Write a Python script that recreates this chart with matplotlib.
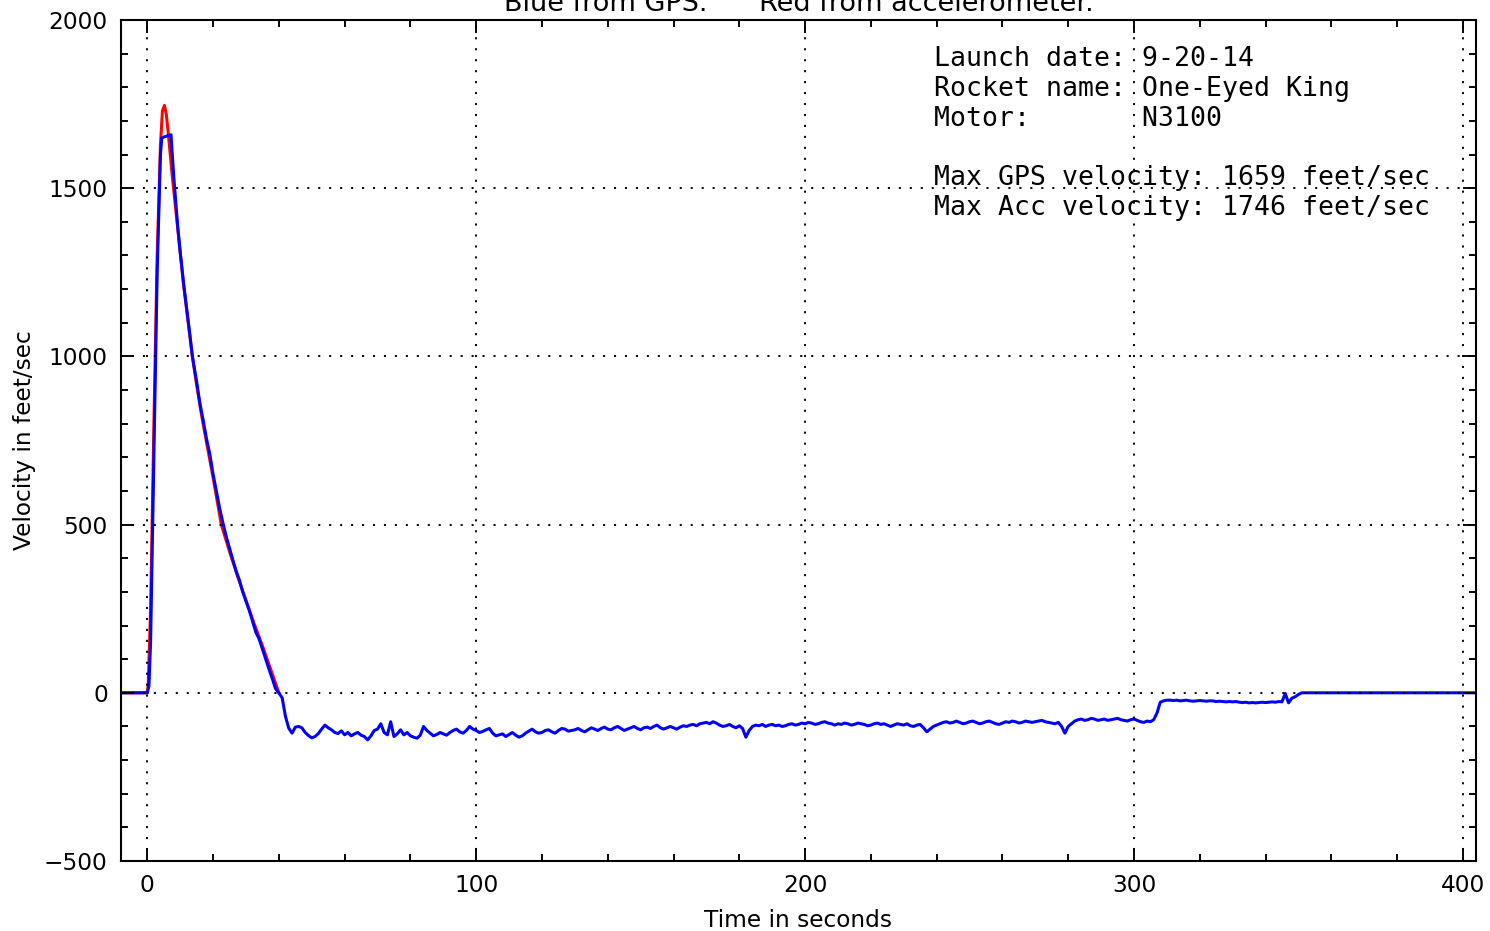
import numpy as np
import matplotlib
matplotlib.use("Agg")
import matplotlib.pyplot as plt
from matplotlib.ticker import MultipleLocator

# ---------------- data ----------------
# Accelerometer velocity (red)
acc_t = [-8, 0, 0.3, 1, 2, 3, 4, 4.6, 5.2, 5.8, 6.5, 7.5, 8.5, 9.3, 11, 12.5,
         13.7, 15, 16.5, 18, 20, 22.5, 25, 27.5, 30, 32.5, 35, 37.5, 40]
acc_v = [0, 0, 30, 250, 800, 1300, 1630, 1730, 1746, 1718, 1650, 1545, 1450,
         1376, 1215, 1095, 1000, 915, 825, 745, 640, 500, 420, 345, 275, 205,
         140, 70, 0]

# GPS velocity (blue), launch and coast
gps_t_boost = [-8, 0, 0.5, 1, 1.5, 2, 3, 4, 4.4, 7.2, 8, 9.3, 10, 11, 12, 13,
               13.7, 15, 16, 17, 18, 19, 20, 21, 22, 23, 24, 25, 26, 27, 28,
               29, 30, 31, 32, 33, 34, 35, 36, 37, 38, 39]
gps_v_boost = [0, 0, 20, 150, 420, 700, 1250, 1600, 1650, 1659, 1540, 1380,
               1310, 1220, 1140, 1060, 1000, 925, 860, 810, 755, 710, 650, 600,
               548, 505, 465, 430, 395, 362, 335, 300, 272, 245, 212, 180, 160,
               130, 100, 70, 42, 12]

# GPS velocity (blue), descent, one reading per second from t = 40 s
gps_v_descent = [
    0, -15, -70, -105, -120, -102, -100, -104, -118, -127,
    -134, -130, -121, -108, -96, -104, -110, -118, -121, -113,
    -125, -118, -128, -122, -118, -126, -130, -140, -128, -112,
    -108, -92, -118, -125, -86, -130, -122, -110, -125, -118,
    -128, -132, -135, -126, -100, -112, -120, -128, -124, -118,
    -122, -126, -118, -112, -108, -116, -120, -112, -100, -108,
    -112, -118, -115, -110, -106, -120, -128, -125, -122, -130,
    -124, -118, -126, -132, -128, -120, -114, -108, -116, -120,
    -118, -112, -110, -116, -120, -112, -106, -108, -114, -112,
    -110, -106, -112, -116, -110, -104, -108, -112, -106, -102,
    -108, -110, -104, -100, -106, -112, -108, -104, -100, -106,
    -110, -104, -102, -106, -100, -96, -104, -108, -104, -100,
    -104, -108, -102, -98, -100, -96, -94, -98, -92, -90,
    -88, -92, -86, -90, -96, -100, -98, -94, -100, -104,
    -98, -106, -132, -112, -100, -96, -98, -94, -100, -96,
    -94, -98, -96, -100, -98, -94, -92, -96, -94, -90,
    -92, -88, -90, -94, -92, -88, -86, -90, -92, -96,
    -92, -94, -90, -92, -96, -94, -90, -92, -94, -98,
    -96, -92, -90, -94, -92, -96, -100, -96, -92, -94,
    -96, -92, -98, -100, -96, -94, -104, -116, -108, -100,
    -96, -92, -88, -86, -90, -88, -84, -88, -92, -90,
    -86, -84, -88, -92, -90, -86, -84, -88, -92, -94,
    -90, -86, -88, -84, -86, -90, -88, -84, -86, -88,
    -86, -84, -82, -86, -88, -90, -92, -88, -100, -120,
    -100, -92, -84, -80, -78, -82, -80, -76, -78, -82,
    -80, -78, -82, -80, -78, -76, -80, -82, -84, -80,
    -78, -82, -86, -88, -84, -86, -80, -60, -28, -24,
    -22, -22, -23, -22, -24, -23, -22, -24, -25, -24,
    -23, -24, -25, -24, -24, -26, -25, -26, -27, -26,
    -27, -26, -28, -29, -28, -30, -29, -30, -29, -28,
    -29, -28, -27, -28, -26, -27, -2, -30, -16, -12,
    -5, 0, 0,
]
gps_t_descent = list(range(40, 40 + len(gps_v_descent)))
gps_t_landed = [404]
gps_v_landed = [0]

gps_t = gps_t_boost + gps_t_descent + gps_t_landed
gps_v = gps_v_boost + gps_v_descent + gps_v_landed

title = "Blue from GPS.      Red from accelerometer."
info_lines = ["Launch date: 9-20-14",
              "Rocket name: One-Eyed King",
              "Motor:       N3100",
              "",
              "Max GPS velocity: 1659 feet/sec",
              "Max Acc velocity: 1746 feet/sec"]

# ---------------- figure ----------------
DPI = 136
fig = plt.figure(figsize=(1490 / DPI, 931 / DPI), dpi=DPI, facecolor="white")
ax = fig.add_axes([121 / 1490, 1 - 861 / 931, (1476 - 121) / 1490, (861 - 20) / 931])

ax.plot(acc_t, acc_v, color="red", lw=1.6)
ax.plot(gps_t, gps_v, color="blue", lw=1.6)

ax.set_xlim(-8, 404)
ax.set_ylim(-500, 2000)
ax.xaxis.set_major_locator(MultipleLocator(100))
ax.xaxis.set_minor_locator(MultipleLocator(20))
ax.yaxis.set_major_locator(MultipleLocator(500))
ax.yaxis.set_minor_locator(MultipleLocator(100))

ax.tick_params(which="both", direction="in", top=True, right=True,
               labelsize=12.3, width=1, color="black")
ax.tick_params(which="major", length=7, pad=7)
ax.tick_params(which="minor", length=3.5)
for sp in ax.spines.values():
    sp.set_linewidth(1.1)

ax.grid(True, which="major", color="black", linestyle=(0, (1.1, 4.7)),
        linewidth=1.0)
ax.set_axisbelow(False)

ax.set_xlabel("Time in seconds", fontsize=12.3, labelpad=6)
ax.set_ylabel("Velocity in feet/sec", fontsize=12.3, labelpad=4)
ax.set_title(title, fontsize=14.4, pad=5)

ax.text(0.6, 0.969, "\n".join(info_lines), transform=ax.transAxes,
        family="DejaVu Sans Mono", fontsize=14, va="top", ha="left",
        linespacing=1.19)

fig.savefig("out.png", dpi=DPI, facecolor="white")
